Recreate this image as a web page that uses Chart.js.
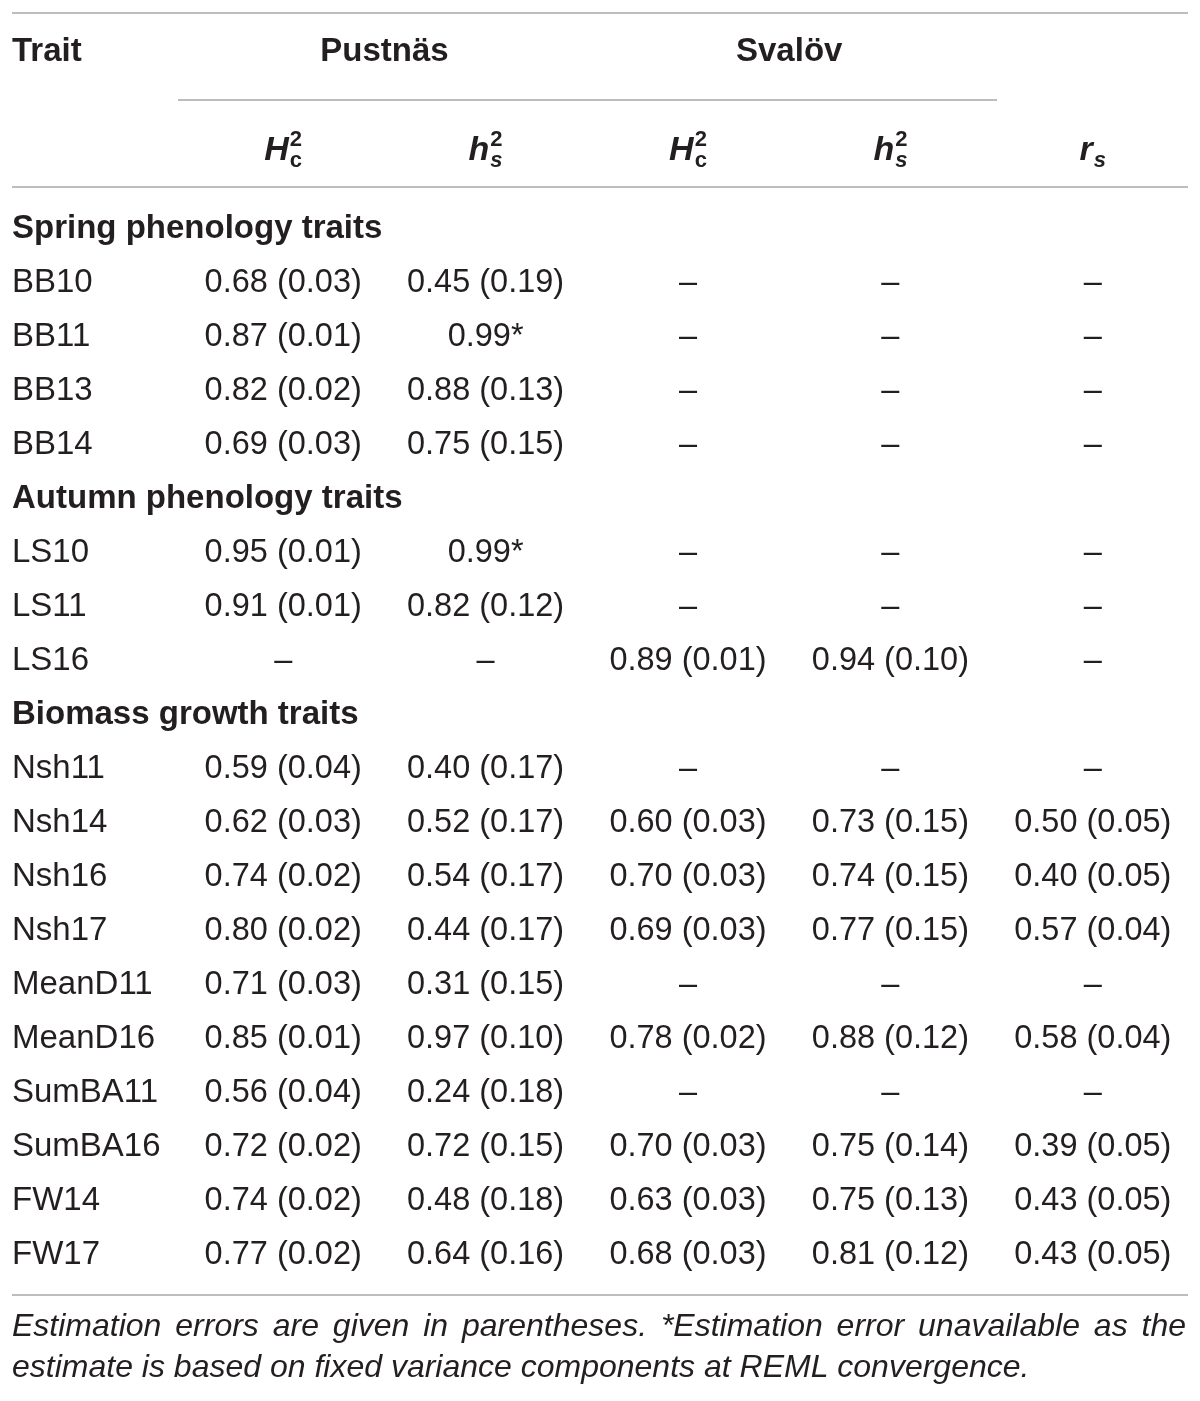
<!DOCTYPE html>
<html>
<head>
<meta charset="utf-8">
<script src="https://cdn.jsdelivr.net/npm/chart.js@4.4.1/dist/chart.umd.min.js"></script>
<style>
  html, body { margin: 0; padding: 0; background: #fff; }
  #wrap { width: 1200px; height: 1401px; }
</style>
</head>
<body>
<div id="wrap"><canvas id="tbl"></canvas></div>
<script>
// table rows (section headings + traits), top to bottom
const sections = ['Spring phenology traits', 'Autumn phenology traits', 'Biomass growth traits'];
const rows = [
  'Spring phenology traits', 'BB10', 'BB11', 'BB13', 'BB14',
  'Autumn phenology traits', 'LS10', 'LS11', 'LS16',
  'Biomass growth traits', 'Nsh11', 'Nsh14', 'Nsh16', 'Nsh17',
  'MeanD11', 'MeanD16', 'SumBA11', 'SumBA16', 'FW14', 'FW17'
];
const traits = rows.filter(r => !sections.includes(r));

const columns = ['pustnasH', 'pustnash', 'svalovH', 'svalovh', 'rs'];

// null estimate = dash, null error with estimate = "*"
const pustnasH    = [0.68, 0.87, 0.82, 0.69, 0.95, 0.91, null, 0.59, 0.62, 0.74, 0.80, 0.71, 0.85, 0.56, 0.72, 0.74, 0.77];
const pustnasHErr = [0.03, 0.01, 0.02, 0.03, 0.01, 0.01, null, 0.04, 0.03, 0.02, 0.02, 0.03, 0.01, 0.04, 0.02, 0.02, 0.02];
const pustnash    = [0.45, 0.99, 0.88, 0.75, 0.99, 0.82, null, 0.40, 0.52, 0.54, 0.44, 0.31, 0.97, 0.24, 0.72, 0.48, 0.64];
const pustnashErr = [0.19, null, 0.13, 0.15, null, 0.12, null, 0.17, 0.17, 0.17, 0.17, 0.15, 0.10, 0.18, 0.15, 0.18, 0.16];
const svalovH     = [null, null, null, null, null, null, 0.89, null, 0.60, 0.70, 0.69, null, 0.78, null, 0.70, 0.63, 0.68];
const svalovHErr  = [null, null, null, null, null, null, 0.01, null, 0.03, 0.03, 0.03, null, 0.02, null, 0.03, 0.03, 0.03];
const svalovh     = [null, null, null, null, null, null, 0.94, null, 0.73, 0.74, 0.77, null, 0.88, null, 0.75, 0.75, 0.81];
const svalovhErr  = [null, null, null, null, null, null, 0.10, null, 0.15, 0.15, 0.15, null, 0.12, null, 0.14, 0.13, 0.12];
const rsVal       = [null, null, null, null, null, null, null, null, 0.50, 0.40, 0.57, null, 0.58, null, 0.39, 0.43, 0.43];
const rsErr       = [null, null, null, null, null, null, null, null, 0.05, 0.05, 0.04, null, 0.04, null, 0.05, 0.05, 0.05];

const footLine1 = 'Estimation errors are given in parentheses. *Estimation error unavailable as the';
const footLine2 = 'estimate is based on fixed variance components at REML convergence.';

const INK = '#231f20';
const RULE = '#bdbdbd';
const FONT = '"Liberation Sans", Helvetica, Arial, sans-serif';

function cell(v, e) {
  if (v === null) return '\u2013';
  if (e === null) return v.toFixed(2) + '*';
  return v.toFixed(2) + ' (' + e.toFixed(2) + ')';
}

function makeSet(key, vals, errs) {
  return {
    label: key,
    data: traits.map(t => ({ x: key, y: t })),
    cellText: vals.map((v, i) => cell(v, errs[i])),
    pointRadius: 0,
    pointHoverRadius: 0
  };
}

function drawSymbol(ctx, cx, cy, main, mainItalic, sup, sub, subItalic) {
  const mainFont = 'bold ' + (mainItalic ? 'italic ' : '') + '34px ' + FONT;
  const supFont = 'bold 22px ' + FONT;
  const subFont = 'bold ' + (subItalic ? 'italic ' : '') + '22px ' + FONT;
  ctx.font = mainFont; const wm = ctx.measureText(main).width;
  ctx.font = supFont; const wsup = sup ? ctx.measureText(sup).width : 0;
  ctx.font = subFont; const wsub = ctx.measureText(sub).width;
  const total = wm + 1 + Math.max(wsup, wsub);
  const x0 = cx - total / 2;
  const base = cy + 11;
  ctx.textAlign = 'left';
  ctx.textBaseline = 'alphabetic';
  ctx.font = mainFont; ctx.fillText(main, x0, base);
  if (sup) { ctx.font = supFont; ctx.fillText(sup, x0 + wm + 1, base - 14); }
  ctx.font = subFont; ctx.fillText(sub, x0 + wm + 1, base + 7);
}

function hline(ctx, x1, x2, y) {
  ctx.beginPath();
  ctx.moveTo(x1, y);
  ctx.lineTo(x2, y);
  ctx.stroke();
}

const tableText = {
  id: 'tableText',
  afterDatasetsDraw(chart) {
    const ctx = chart.ctx;
    const area = chart.chartArea;
    const xs = chart.scales.x;
    const ys = chart.scales.y;
    const colX = columns.map(c => xs.getPixelForValue(columns.indexOf(c)));
    ctx.save();
    ctx.fillStyle = INK;

    // cells
    ctx.textAlign = 'center';
    ctx.textBaseline = 'middle';
    ctx.font = '32.5px ' + FONT;
    chart.data.datasets.forEach((ds, di) => {
      chart.getDatasetMeta(di).data.forEach((pt, i) => {
        ctx.fillText(ds.cellText[i], pt.x, pt.y + 1);
      });
    });

    // row labels
    ctx.textAlign = 'left';
    rows.forEach((r, i) => {
      ctx.font = (sections.includes(r) ? 'bold 33px ' : '33px ') + FONT;
      ctx.fillText(r, 12, ys.getPixelForValue(i) + 1);
    });

    // rules
    ctx.strokeStyle = RULE;
    ctx.lineWidth = 2;
    hline(ctx, 12, 1188, area.top - 188);
    hline(ctx, 178, 997, area.top - 101);
    hline(ctx, 12, 1188, area.top - 14);
    hline(ctx, 12, 1188, area.bottom + 14);

    // column headers
    ctx.font = 'bold 33px ' + FONT;
    ctx.textBaseline = 'middle';
    ctx.textAlign = 'left';
    ctx.fillText('Trait', 12, area.top - 149);
    ctx.textAlign = 'center';
    ctx.fillText('Pustnäs', (colX[0] + colX[1]) / 2, area.top - 149);
    ctx.fillText('Svalöv', (colX[2] + colX[3]) / 2, area.top - 149);

    const symY = area.top - 52;
    drawSymbol(ctx, colX[0], symY, 'H', true, '2', 'c', false);
    drawSymbol(ctx, colX[1], symY, 'h', true, '2', 's', true);
    drawSymbol(ctx, colX[2], symY, 'H', true, '2', 'c', false);
    drawSymbol(ctx, colX[3], symY, 'h', true, '2', 's', true);
    drawSymbol(ctx, colX[4], symY, 'r', true, '', 's', true);

    // footnote (first line justified)
    ctx.font = 'italic 32px ' + FONT;
    ctx.textAlign = 'left';
    ctx.textBaseline = 'middle';
    const words = footLine1.split(' ');
    const wsum = words.reduce((s, w) => s + ctx.measureText(w).width, 0);
    const gap = (1186 - 12 - wsum) / (words.length - 1);
    let x = 12;
    words.forEach(w => { ctx.fillText(w, x, area.bottom + 46); x += ctx.measureText(w).width + gap; });
    ctx.fillText(footLine2, 12, area.bottom + 87);
    ctx.restore();
  }
};

new Chart(document.getElementById('tbl'), {
  type: 'scatter',
  data: {
    datasets: [
      makeSet('pustnasH', pustnasH, pustnasHErr),
      makeSet('pustnash', pustnash, pustnashErr),
      makeSet('svalovH', svalovH, svalovHErr),
      makeSet('svalovh', svalovh, svalovhErr),
      makeSet('rs', rsVal, rsErr)
    ]
  },
  options: {
    responsive: true,
    maintainAspectRatio: false,
    animation: false,
    layout: { padding: { left: 182, right: 6, top: 201, bottom: 120 } },
    scales: {
      x: { type: 'category', labels: columns, offset: true, display: false },
      y: { type: 'category', labels: rows, offset: true, display: false }
    },
    plugins: { legend: { display: false }, tooltip: { enabled: false } },
    events: []
  },
  plugins: [tableText]
});
</script>
</body>
</html>
